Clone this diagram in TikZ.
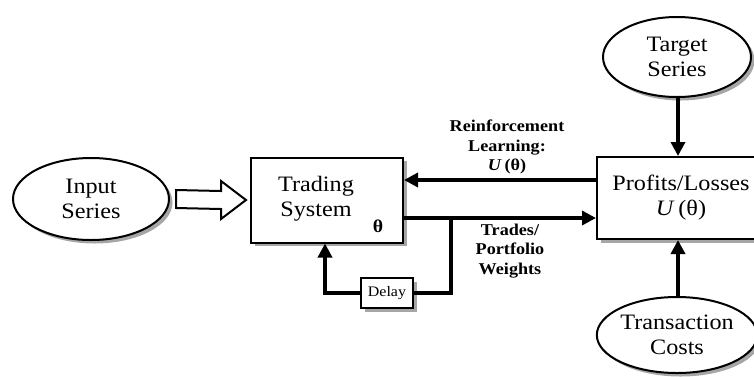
\documentclass[tikz,border=0pt]{standalone}
\usepackage{fontspec}
\setmainfont{Liberation Serif}[FakeStretch=1.1]
\usetikzlibrary{arrows.meta,shapes.geometric,shadows,calc}

\begin{document}
\begin{tikzpicture}[x=1pt,y=-1pt,
  shade/.style={drop shadow={shadow xshift=3.5pt,shadow yshift=-3.5pt,fill=black!50,opacity=0.7}},
  oval/.style={ellipse,draw,line width=2pt,fill=white,shade,inner sep=0pt,align=center,
    font=\fontsize{22}{25}\selectfont},
  block/.style={rectangle,draw,line width=2pt,fill=white,shade,inner sep=0pt},
  body/.style={align=center,font=\fontsize{22}{25}\selectfont},
  flow/.style={line width=3.4pt,-{Triangle[length=14pt,width=14pt]}},
  wire/.style={line width=3.4pt},
  lbl/.style={align=center,font=\bfseries\fontsize{16.5}{19.5}\selectfont}
]
\useasboundingbox (0,0) rectangle (754,376);

% sources and sinks
\node[oval,minimum width=156pt,minimum height=82pt] (in) at (91,199) {Input\\Series};
\node[oval,minimum width=148pt,minimum height=80pt] (tg) at (677,57) {Target\\Series};
\node[oval,minimum width=144pt,minimum height=76pt] (tc) at (677,335) {Transaction\\Costs};

% processing blocks
\node[block,minimum width=152pt,minimum height=85pt] (ts) at (327,200) {};
\node[body] (tstext) at ($(ts.center)+(-11,-1)$) {Trading\\System};
\node[font=\bfseries\fontsize{18}{20}\selectfont] (theta) at (378,226) {θ};

\node[block,minimum width=168pt,minimum height=82pt] (pl) at (681,198) {};
\node[body] (pltext) at (pl.center) {Profits/Losses\\\textit{U}\,(θ)};

\node[block,line width=1.5pt,minimum width=52pt,minimum height=30pt] (dl) at (387,293)
  {\fontsize{14.5}{16}\selectfont Delay};

% hollow input arrow
\coordinate (hs) at ($(in.east)+(6,0)$);
\coordinate (ht) at ($(ts.west)+(-4,0)$);
\draw[line width=2pt,fill=white,line join=miter]
  ($(hs)+(0,-9)$) -- ($(ht)+(-25,-9)$) -- ($(ht)+(-25,-19)$) -- (ht)
  -- ($(ht)+(-25,19)$) -- ($(ht)+(-25,9)$) -- ($(hs)+(0,9)$) -- cycle;

% learning signal and trades
\coordinate (ru) at ($(ts.east)+(0,-20)$);
\coordinate (tr) at ($(ts.east)+(0,18)$);
\draw[flow] (pl.west |- ru) -- (ru);
\draw[flow] (tr) -- (pl.west |- tr);

% delayed feedback loop
\coordinate (br) at ($(tr)+(47,0)$);
\draw[wire] (br) |- (dl.east);
\draw[flow] (dl.west) -| ($(ts.south)+(-2,0)$);

% external inputs to profits/losses
\draw[flow] (pl.north |- tg.south) ++(-3,0) coordinate (tgo) -- (tgo |- pl.north);
\draw[flow] (pl.south |- tc.north) ++(-3,0) coordinate (tco) -- (tco |- pl.south);

% connector labels
\node[lbl] (rl) at (507,147) {Reinforcement\\Learning:\\\textit{U}\,(θ)};
\node[lbl] (tw) at (510,251) {Trades/\\Portfolio\\Weights};
\end{tikzpicture}
\end{document}
